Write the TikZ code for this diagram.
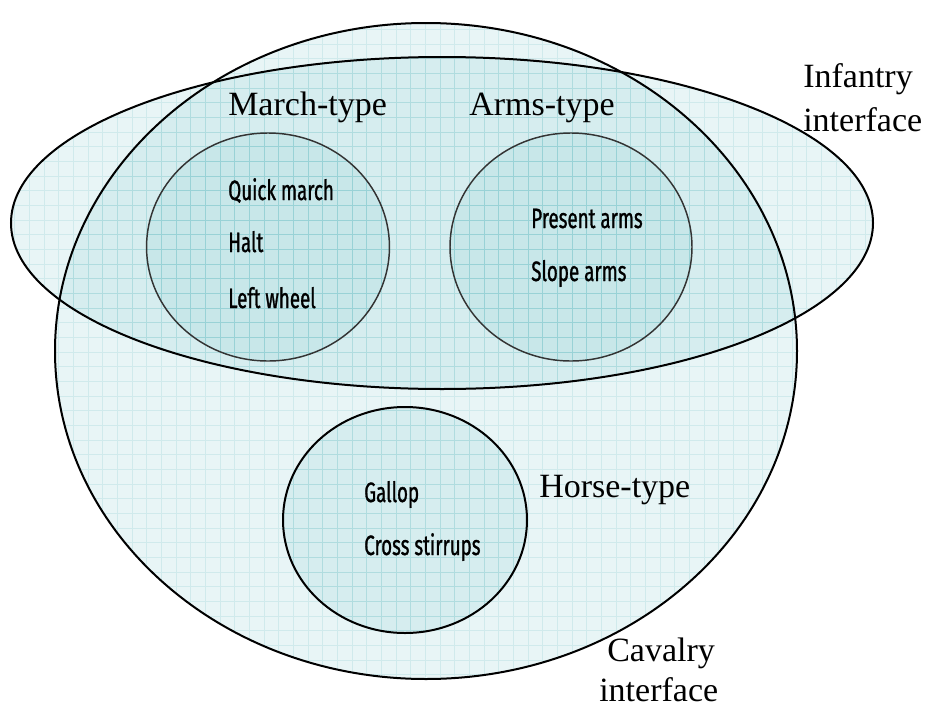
\documentclass[tikz,border=0pt]{standalone}
\usepackage{fontspec}
\setmainfont{Liberation Serif}
\newfontfamily\condfont[FakeStretch=0.67,FakeBold=1]{Fira Sans}
\definecolor{vfill}{RGB}{150,210,214}
\definecolor{vgrid}{RGB}{100,185,192}
\begin{document}
\begin{tikzpicture}[x=0.75pt,y=-0.75pt,
  region/.style={fill=vfill, fill opacity=0.22},
  gridlines/.style={draw=vgrid, line width=0.35pt, opacity=0.18},
  outerline/.style={draw=black, line width=1.5pt},
  innerline/.style={draw=black!80, line width=1.1pt},
  catlabel/.style={font=\fontsize{25.5}{30}\selectfont, anchor=base west, inner sep=0pt},
  cmdlabel/.style={font=\condfont\fontsize{21}{24}\selectfont, anchor=base west, inner sep=0pt}]
\useasboundingbox (0,0) rectangle (925,707);
% fills
\fill[region] (426,351) ellipse [x radius=278.25pt, y radius=246pt];
\fill[region] (442,223) ellipse [x radius=323.25pt, y radius=124.5pt];
\fill[region] (268,247) ellipse [x radius=91.1pt, y radius=85.5pt];
\fill[region] (571,247) ellipse [x radius=90.75pt, y radius=85.5pt];
\fill[region] (405,520) ellipse [x radius=91.5pt, y radius=84.75pt];
% grid inside each shape
\begin{scope}\clip (426,351) ellipse [x radius=278.25pt, y radius=246pt];\draw[gridlines] (0,0) grid[step=11pt] (925,707);\end{scope}
\begin{scope}\clip (442,223) ellipse [x radius=323.25pt, y radius=124.5pt];\draw[gridlines] (0,0) grid[step=11pt] (925,707);\end{scope}
\begin{scope}\clip (268,247) ellipse [x radius=91.1pt, y radius=85.5pt];\draw[gridlines] (0,0) grid[step=11pt] (925,707);\end{scope}
\begin{scope}\clip (571,247) ellipse [x radius=90.75pt, y radius=85.5pt];\draw[gridlines] (0,0) grid[step=11pt] (925,707);\end{scope}
\begin{scope}\clip (405,520) ellipse [x radius=91.5pt, y radius=84.75pt];\draw[gridlines] (0,0) grid[step=11pt] (925,707);\end{scope}
% outlines
\path[outerline] (442,223) ellipse [x radius=323.25pt, y radius=124.5pt];
\path[outerline] (426,351) ellipse [x radius=278.25pt, y radius=246pt];
\path[innerline] (268,247) ellipse [x radius=91.1pt, y radius=85.5pt];
\path[innerline] (571,247) ellipse [x radius=90.75pt, y radius=85.5pt];
\path[outerline] (405,520) ellipse [x radius=91.5pt, y radius=84.75pt];
% category labels
\node[catlabel] (march) at (228,115) {March-type};
\node[catlabel] (arms) at (469,115) {Arms-type};
\node[catlabel] (horse) at (539,497) {Horse-type};
\node[catlabel] (inf1) at (803,87) {Infantry};
\node[catlabel] (inf2) at (803,131) {interface};
\node[catlabel] (cav1) at (607,661) {Cavalry};
\node[catlabel] (cav2) at (599,701) {interface};
% command labels
\node[cmdlabel] (qm) at (228,200) {Quick march};
\node[cmdlabel] (ha) at (228,252) {Halt};
\node[cmdlabel] (lw) at (228,308) {Left wheel};
\node[cmdlabel] (pa) at (531,228) {Present arms};
\node[cmdlabel] (sa) at (531,281) {Slope arms};
\node[cmdlabel] (ga) at (364,502) {Gallop};
\node[cmdlabel] (cs) at (364,555) {Cross stirrups};
\end{tikzpicture}
\end{document}
